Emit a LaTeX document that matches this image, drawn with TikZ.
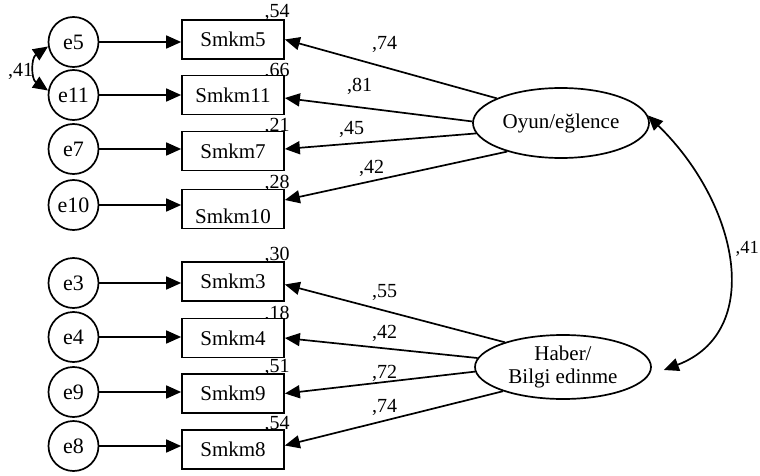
\documentclass[tikz,border=0pt]{standalone}
\usepackage{fontspec}
\setmainfont{Liberation Serif}
\usetikzlibrary{arrows.meta,shapes.geometric,backgrounds,calc}
\begin{document}
\begin{tikzpicture}[x=1pt,y=-1pt,
  font=\fontsize{21}{23}\selectfont,
  errc/.style={circle,draw,line width=1.7pt,minimum size=50pt,inner sep=0pt,font=\fontsize{22}{24}\selectfont},
  obs/.style={rectangle,draw,line width=1.7pt,fill=white,minimum width=102pt,minimum height=39pt,inner sep=0pt},
  lat/.style={ellipse,draw,line width=1.7pt,inner sep=0pt,minimum width=176pt,minimum height=70pt,align=center},
  load/.style={line width=1.7pt,-{Triangle[length=15pt,width=13pt]}},
  cov/.style={line width=1.7pt,{Triangle[length=15pt,width=13pt]}-{Triangle[length=15pt,width=13pt]}},
  wt/.style={anchor=base west,inner sep=0pt,font=\fontsize{20}{22}\selectfont},
  rsq/.style={anchor=base east,inner sep=0pt,font=\fontsize{20}{22}\selectfont},
]
\useasboundingbox (0,0) rectangle (760,476);

% error terms
\node[errc] (e5)  at (73.5,42)  {e5};
\node[errc] (e11) at (73.5,95)  {e11};
\node[errc] (e7)  at (73.5,149) {e7};
\node[errc] (e10) at (73.5,205) {e10};
\node[errc] (e3)  at (73.5,283) {e3};
\node[errc] (e4)  at (73.5,337) {e4};
\node[errc] (e9)  at (73.5,392) {e9};
\node[errc] (e8)  at (73.5,446) {e8};

% observed items
\node[obs] (s5)  at (233,39.5)  {Smkm5};
\node[obs] (s11) at (233,95)    {Smkm11};
\node[obs] (s7)  at (233,151)   {Smkm7};
\node[obs,text height=28pt,text depth=0pt] (s10) at (233,209) {Smkm10};
\node[obs] (s3)  at (233,281.5) {Smkm3};
\node[obs] (s4)  at (233,338)   {Smkm4};
\node[obs] (s9)  at (233,393.5) {Smkm9};
\node[obs] (s8)  at (233,449.5) {Smkm8};

% latent factors
\node[lat] (oyun)  at (561,123) {Oyun/eğlence};
\node[lat,minimum height=64pt] (haber) at (563,367) {Haber/\\Bilgi edinme};

% error paths
\foreach \e/\s in {e5/s5,e11/s11,e7/s7,e10/s10,e3/s3,e4/s4,e9/s9,e8/s8}
  \draw[load] (\e.east) -- (\e.east -| \s.west);

% factor loadings
\draw[load] (oyun.159) -- (s5.east);
\draw[load] (oyun.179) -- ([yshift=-3pt]s11.east);
\draw[load] (oyun.187) -- ([yshift=2pt]s7.east);
\draw[load] (oyun.208) -- ([yshift=9pt]s10.east);
\draw[load] (haber.157) -- ([yshift=-3pt]s3.east);
\draw[load] (haber.174) -- (s4.east);
\draw[load] (haber.183) -- (s9.east);
\draw[load] (haber.202) -- ([yshift=4pt]s8.east);

\node[wt] (w1) at (372,50)  {,74};
\node[wt] (w2) at (347,92)  {,81};
\node[wt] (w3) at (339,135) {,45};
\node[wt] (w4) at (359,173) {,42};
\node[wt] (w5) at (372,297) {,55};
\node[wt] (w6) at (372,338) {,42};
\node[wt] (w7) at (372,378) {,72};
\node[wt] (w8) at (372,412) {,74};

% covariances
\draw[cov] (e5.190) to[out=214,in=146,looseness=1.2] (e11.170);
\node[wt] (c1) at (8,77) {,41};
\coordinate (hb) at ($(haber.east)+(12,3)$);
\draw[cov] (oyun.5) .. controls +(92,90) and +(100,-38) .. (hb);
\node[wt,font=\fontsize{18.5}{20}\selectfont] (c2) at (735.5,253) {,41};

% squared multiple correlations, partly hidden behind the boxes
\begin{pgfonlayer}{background}
  \fill[white] (0,0) rectangle (760,476);
  \node[rsq] (r5)  at ([xshift=5pt,yshift=2pt]s5.north east)    {,54};
  \node[rsq] (r11) at ([xshift=5pt,yshift=-2pt]s11.north east)  {,66};
  \node[rsq] (r7)  at ([xshift=5pt,yshift=-0.5pt]s7.north east) {,21};
  \node[rsq] (r10) at ([xshift=5pt]s10.north east)              {,28};
  \node[rsq] (r3)  at ([xshift=5pt,yshift=1pt]s3.north east)    {,30};
  \node[rsq] (r4)  at ([xshift=5pt,yshift=-1.5pt]s4.north east) {,18};
  \node[rsq] (r9)  at ([xshift=5pt,yshift=1pt]s9.north east)    {,51};
  \node[rsq] (r8)  at ([xshift=5pt]s8.north east)               {,54};
\end{pgfonlayer}
\end{tikzpicture}
\end{document}
